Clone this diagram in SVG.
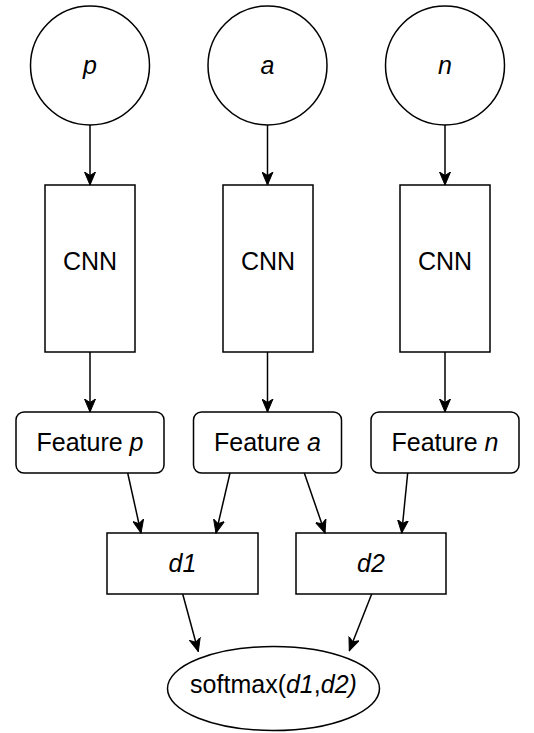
<svg xmlns="http://www.w3.org/2000/svg" width="534" height="733" viewBox="0 0 534 733">
<defs>
<style>
.shape{fill:#fff;stroke:#000;stroke-width:1.5}
.t{font-family:"Liberation Sans",Arial,sans-serif;font-size:25px;fill:#000;text-anchor:middle}
.i{font-style:italic}
.edge{fill:none;stroke:#000;stroke-width:1.5;marker-end:url(#arr)}
</style>
<marker id="arr" markerUnits="userSpaceOnUse" markerWidth="14" markerHeight="12" viewBox="0 0 14 12" refX="13" refY="6" orient="auto">
<path d="M0,0.5 L13,6 L0,11.5 L3.5,6 Z" fill="#000" stroke="#000" stroke-width="1"/>
</marker>
</defs>
<rect width="534" height="733" fill="#fff"/>
<g id="circle-p"><circle class="shape" cx="90" cy="65.5" r="59.5"/><text class="t i" x="90" y="74">p</text></g>
<g id="circle-a"><circle class="shape" cx="267.5" cy="65.5" r="59.5"/><text class="t i" x="267.5" y="74">a</text></g>
<g id="circle-n"><circle class="shape" cx="445" cy="65.5" r="59.5"/><text class="t i" x="445" y="74">n</text></g>
<g id="cnn-p"><rect class="shape" x="45" y="185" width="90" height="167"/><text class="t" x="90" y="270">CNN</text></g>
<g id="cnn-a"><rect class="shape" x="223" y="185" width="90" height="167"/><text class="t" x="268" y="270">CNN</text></g>
<g id="cnn-n"><rect class="shape" x="400" y="185" width="90" height="167"/><text class="t" x="445" y="270">CNN</text></g>
<g id="feature-p"><rect class="shape" x="16" y="412" width="148" height="61" rx="8"/><text class="t" x="90" y="451">Feature <tspan class="i">p</tspan></text></g>
<g id="feature-a"><rect class="shape" x="193.5" y="412" width="148" height="61" rx="8"/><text class="t" x="267.5" y="451">Feature <tspan class="i">a</tspan></text></g>
<g id="feature-n"><rect class="shape" x="371" y="412" width="148" height="61" rx="8"/><text class="t" x="445" y="451">Feature <tspan class="i">n</tspan></text></g>
<g id="d1"><rect class="shape" x="107" y="533" width="151" height="61"/><text class="t i" x="182.5" y="572">d1</text></g>
<g id="d2"><rect class="shape" x="296" y="533" width="150" height="61"/><text class="t i" x="371" y="572">d2</text></g>
<g id="softmax"><ellipse class="shape" cx="273.5" cy="688.5" rx="106" ry="42"/><text class="t" x="273.5" y="693">softmax(<tspan class="i">d1</tspan>,<tspan class="i">d2)</tspan></text></g>
<g id="connectors">
<line class="edge" x1="90" y1="125" x2="90" y2="185"/>
<line class="edge" x1="267.5" y1="125" x2="267.5" y2="185"/>
<line class="edge" x1="445" y1="125" x2="445" y2="185"/>
<line class="edge" x1="90" y1="352" x2="90" y2="412"/>
<line class="edge" x1="267.5" y1="352" x2="267.5" y2="412"/>
<line class="edge" x1="445" y1="352" x2="445" y2="412"/>
<line class="edge" x1="127.7" y1="473" x2="141" y2="533"/>
<line class="edge" x1="230" y1="473" x2="216" y2="533"/>
<line class="edge" x1="304.3" y1="473" x2="325" y2="533"/>
<line class="edge" x1="407.7" y1="473" x2="401.7" y2="533"/>
<line class="edge" x1="182.7" y1="594" x2="198.3" y2="651.5"/>
<line class="edge" x1="371.7" y1="594" x2="349.3" y2="650.7"/>
</g>
</svg>
